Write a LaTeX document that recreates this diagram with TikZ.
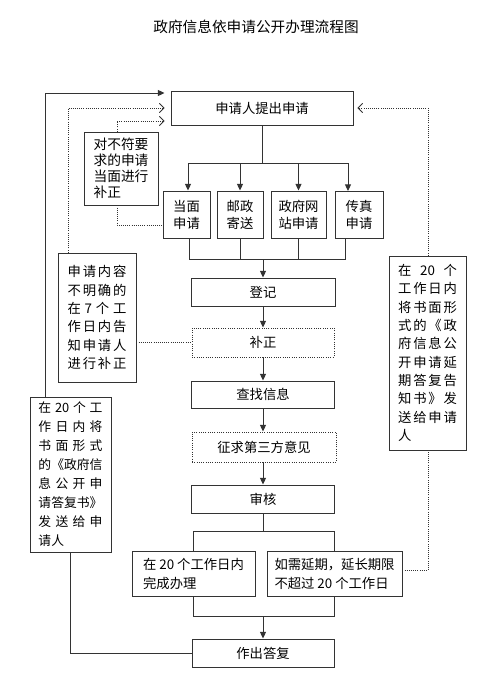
\documentclass[tikz,border=0pt]{standalone}
\usepackage{fontspec}
\setmainfont{Noto Sans CJK SC}
\usetikzlibrary{arrows.meta}
\def\sprA#1#2\relax{#1\if\relax\detokenize{#2}\relax\else\hfill\sprA#2\relax\fi}
\newcommand\jl[2]{\makebox[#1][s]{\sprA#2\relax}}
\begin{document}
\begin{tikzpicture}[x=0.75pt,y=-0.75pt,
  box/.style={draw=black!80, line width=0.7pt, inner sep=0pt, align=center, font=\fontsize{10}{13}\selectfont},
  dbox/.style={box, densely dotted},
  tbox/.style={box, align=left},
  ln/.style={draw=black!80, line width=0.7pt},
  arr/.style={ln, -{Triangle[length=5pt,width=4.5pt]}},
  dln/.style={draw=black!80, line width=0.6pt, densely dotted},
  darr/.style={dln, -{Straight Barb[length=3.5pt,width=7pt]}},
]
\useasboundingbox (0,0) rectangle (500,682);

\node[font=\fontsize{11}{13}\selectfont] (title) at (256,27) {政府信息依申请公开办理流程图};

\node[box, minimum width=136.5pt, minimum height=25.5pt] (apply) at (262,108) {申请人提出申请};

\node[box, minimum width=35.25pt, minimum height=35.25pt, font=\fontsize{10}{12.75}\selectfont] (face) at (186.5,214.5) {当面\\申请};
\node[box, minimum width=34.5pt, minimum height=35.25pt, font=\fontsize{10}{12.75}\selectfont] (post) at (240,214.5) {邮政\\寄送};
\node[box, minimum width=41.25pt, minimum height=35.25pt, font=\fontsize{10}{12.75}\selectfont] (web) at (298.5,214.5) {政府网\\站申请};
\node[box, minimum width=36pt, minimum height=35.25pt, font=\fontsize{10}{12.75}\selectfont] (fax) at (359,215) {传真\\申请};

\node[box, minimum width=108pt, minimum height=21pt] (reg) at (263,292) {登记};
\node[dbox, minimum width=106.5pt, minimum height=21.75pt] (fix) at (263,342.5) {补正};
\node[box, minimum width=107.25pt, minimum height=20.25pt] (find) at (263,394.5) {查找信息};
\node[dbox, minimum width=108pt, minimum height=22.5pt] (consult) at (264,447) {征求第三方意见};
\node[box, minimum width=107.25pt, minimum height=21pt] (review) at (263,499) {审核};

\node[tbox, minimum width=92.25pt, minimum height=33.75pt, font=\fontsize{10}{14.25}\selectfont] (done) at (193.5,573.5) {在 20 个工作日内\\完成办理};
\node[tbox, minimum width=101.25pt, minimum height=33.75pt, font=\fontsize{10}{14.25}\selectfont] (ext) at (334.5,573.5) {如需延期，延长期限\\不超过 20 个工作日};

\node[box, minimum width=106.5pt, minimum height=21pt] (reply) at (263,653) {作出答复};

\node[tbox, minimum width=55.5pt, minimum height=54.75pt, font=\fontsize{10.3}{12}\selectfont] (fixface) at (121,168.5) {对不符要\\求的申请\\当面进行\\补正};

\node[tbox, minimum width=58.5pt, minimum height=96.75pt, font=\fontsize{10}{13.75}\selectfont] (unclear) at (97,317.5)
 {\jl{44pt}{申请内容}\\\jl{44pt}{不明确的}\\\jl{44pt}{在7个工}\\\jl{44pt}{作日内告}\\\jl{44pt}{知申请人}\\\jl{44pt}{进行补正}};

\node[tbox, minimum width=60.75pt, minimum height=116.25pt, font=\fontsize{9.6}{14.25}\selectfont] (replyL) at (70.5,474.5)
 {\jl{48pt}{在{20}个工}\\\jl{48pt}{作日内将}\\\jl{48pt}{书面形式}\\\jl{48pt}{的《政府信}\\\jl{48pt}{息公开申}\\\jl{48pt}{请答复书》}\\\jl{48pt}{发送给申}\\请人};

\node[tbox, minimum width=57.75pt, minimum height=145.5pt, font=\fontsize{10}{13.75}\selectfont] (extR) at (427.5,353)
 {\jl{44pt}{在{20}个}\\\jl{44pt}{工作日内}\\\jl{44pt}{将书面形}\\\jl{44pt}{式的《政}\\\jl{44pt}{府信息公}\\\jl{44pt}{开申请延}\\\jl{44pt}{期答复告}\\\jl{44pt}{知书》发}\\\jl{44pt}{送给申请}\\人};

% split to four methods
\coordinate (sp) at (262,163);
\coordinate (s1) at (188,163);
\coordinate (s4) at (348,163);
\draw[ln] (apply.south) -- (sp);
\draw[ln] (s1) -- (s4);
\draw[arr] (s1) -- (s1 |- face.north);
\draw[arr] (post.north |- sp) -- (post.north);
\draw[arr] (web.north |- sp) -- (web.north);
\draw[arr] (s4) -- (s4 |- fax.north);

% merge
\coordinate (mg) at (263,259);
\coordinate (m1) at (189,259);
\coordinate (m4) at (345,259);
\draw[ln] (m1 |- face.south) -- (m1) -- (m4) -- (m4 |- fax.south);
\draw[ln] (post.south) -- (post.south |- mg);
\draw[ln] (web.south) -- (web.south |- mg);
\draw[arr] (mg) -- (reg.north);

\draw[arr] (reg) -- (fix);
\draw[arr] (fix) -- (find);
\draw[arr] (find) -- (find.south |- consult.north);
\draw[arr] (consult.south -| review.north) -- (review.north);

% review split
\coordinate (rs) at (263,531);
\draw[ln] (review.south) -- (rs);
\draw[ln] (done.north) |- (ext.north |- rs) -- (ext.north);

% merge 2
\coordinate (rm) at (263,616);
\draw[ln] (done.south) |- (ext.south |- rm) -- (ext.south);
\draw[arr] (rm) -- (reply.north);

% back connectors
\draw[ln] (reply.west) -| (replyL.south);
\coordinate (t1) at (45,93);
\draw[arr, shorten >=4.5pt] (replyL.north -| t1) -- (t1) -- (t1 -| apply.west);
\coordinate (t2) at (68,108);
\draw[darr, shorten >=4.5pt] (unclear.north -| t2) -- (t2) -- (apply.west);
\coordinate (t3) at (117,121);
\draw[darr, shorten >=4.5pt] (fixface.north -| t3) -- (t3) -- (t3 -| apply.west);
\coordinate (t4) at (117,225);
\draw[dln] (fixface.south -| t4) -- (t4) -- (t4 -| face.west);
\draw[dln] (fix.west -| unclear.east) -- (fix.west);
\coordinate (t5) at (428,108);
\draw[darr, shorten >=3pt] (extR.north -| t5) -- (t5) -- (apply.east);
\coordinate (t6) at (428,570);
\draw[dln] (ext.east |- t6) -- (t6) -- (extR.south -| t6);
\end{tikzpicture}
\end{document}
